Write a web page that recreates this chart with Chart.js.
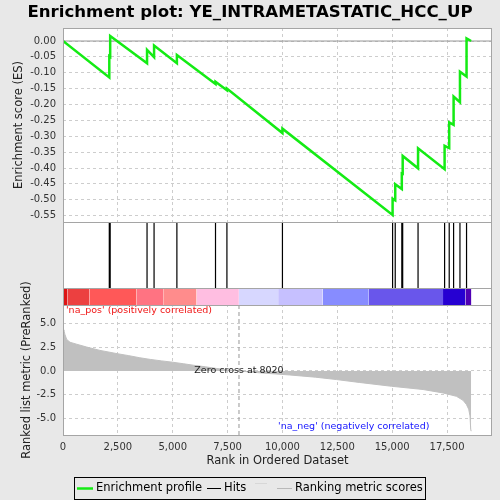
<!DOCTYPE html>
<html>
<head>
<meta charset="utf-8">
<script src="https://cdn.jsdelivr.net/npm/chart.js@4.4.1/dist/chart.umd.min.js"></script>
<style>
  html, body { margin: 0; padding: 0; background: #e8e8e8; }
  #wrap { width: 500px; height: 500px; }
</style>
</head>
<body>
<div id="wrap"><canvas id="gseaChart" width="500" height="500"></canvas></div>
<script>
// Running enrichment score, read at each hit (value before and after the jump)
const esRanks = [0, 2110, 2110, 2150, 2150, 3830, 3830, 4150, 4150, 5190, 5190, 6950, 6950, 7470, 7470,
    10000, 10000, 15020, 15020, 15140, 15140, 15440, 15440, 15480, 15480, 16180, 16180,
    17390, 17390, 17600, 17600, 17800, 17800, 18090, 18090, 18390, 18390, 18600];
const esScores = [0, -0.115, -0.048, -0.050, 0.016, -0.070, -0.028, -0.051, -0.014, -0.070, -0.044, -0.135, -0.128, -0.155, -0.150,
    -0.290, -0.276, -0.548, -0.497, -0.502, -0.451, -0.466, -0.417, -0.418, -0.362, -0.401, -0.338,
    -0.404, -0.330, -0.337, -0.256, -0.264, -0.175, -0.193, -0.097, -0.112, 0.008, 0.0];

// Positions of gene set members in the ranked list
const hitRanks = [2110, 2150, 3830, 4150, 5190, 6950, 7470, 10000, 15020, 15140, 15440, 15480,
    16180, 17390, 17600, 17800, 18090, 18390];

// Ranked list metric (PreRanked)
const metricRanks = [0, 45, 90, 168, 320, 620, 1080, 1685, 2490, 3000, 3500, 4000, 4500, 4980, 5500, 5940, 6500, 7000, 7500, 8020,
    9000, 10337, 11500, 12463, 13500, 14968, 16408, 17318, 17928, 18230, 18383, 18488, 18547, 18580, 18600];
const metricValues = [4.3, 4.2, 3.8, 3.3, 3.0, 2.8, 2.5, 2.15, 1.8, 1.6, 1.38, 1.2, 1.05, 0.92, 0.75, 0.6, 0.43, 0.26, 0.12, 0,
    -0.2, -0.42, -0.65, -0.9, -1.2, -1.6, -1.94, -2.3, -2.65, -3.07, -3.5, -4.0, -4.7, -6.1, -6.3];
const zeroCross = 8020;

// Colour bar under the hits
const barEdges = [0, 196, 1198, 3356, 4567, 6088, 8015, 9804, 11826, 13935, 17318, 18338, 18610];
const barColors = ['rgb(220,20,20)', 'rgb(236,64,64)', 'rgb(255,88,88)', 'rgb(255,115,130)', 'rgb(255,140,140)',
    'rgb(255,190,225)', 'rgb(215,215,255)', 'rgb(198,192,255)', 'rgb(135,140,255)', 'rgb(105,86,235)',
    'rgb(38,0,210)', 'rgb(80,0,180)'];

// Tick values
const rankTicks = [0, 2500, 5000, 7500, 10000, 12500, 15000, 17500];
const esTicks = [0, -0.05, -0.10, -0.15, -0.20, -0.25, -0.30, -0.35, -0.40, -0.45, -0.50, -0.55];
const metricTicks = [5, 2.5, 0, -2.5, -5];

const xMax = 19550;
const FONT = 'DejaVu Sans';

function setTicks(values) {
    return function(scale) {
        scale.ticks = values.slice().sort((a, b) => a - b).map(v => ({ value: v }));
    };
}

function fixWidth(scale) {
    scale.width = 63;
}

// Build datasets
const datasets = [];

datasets.push({
    label: 'Enrichment profile',
    data: esRanks.map((r, i) => ({ x: r, y: esScores[i] })),
    yAxisID: 'yES',
    borderColor: 'rgb(20,235,20)',
    borderWidth: 2.5,
    pointRadius: 0,
    fill: false
});

datasets.push({
    label: 'zero',
    data: [{ x: 0, y: 0 }, { x: xMax, y: 0 }],
    yAxisID: 'yES',
    borderColor: 'rgb(150,150,150)',
    borderWidth: 1,
    pointRadius: 0,
    fill: false
});

const hitPoints = [];
hitRanks.forEach(r => {
    hitPoints.push({ x: r, y: 0 }, { x: r, y: 1 }, { x: r, y: null });
});
datasets.push({
    label: 'Hits',
    data: hitPoints,
    yAxisID: 'yHits',
    borderColor: '#000',
    borderWidth: 1.2,
    pointRadius: 0,
    spanGaps: false,
    fill: false
});

barColors.forEach((c, i) => {
    datasets.push({
        label: 'bar' + i,
        data: [{ x: barEdges[i], y: 1 }, { x: barEdges[i + 1], y: 1 }],
        yAxisID: 'yBar',
        borderWidth: 0,
        borderColor: c,
        backgroundColor: c,
        pointRadius: 0,
        fill: 'origin'
    });
});

datasets.push({
    label: 'zero cross',
    data: [{ x: zeroCross, y: 6.9 }, { x: zeroCross, y: -6.7 }],
    yAxisID: 'yMetric',
    borderColor: 'rgb(150,150,150)',
    borderWidth: 1,
    borderDash: [4, 3],
    pointRadius: 0,
    fill: false
});

datasets.push({
    label: 'Ranking metric scores',
    data: metricRanks.map((r, i) => ({ x: r, y: metricValues[i] })),
    yAxisID: 'yMetric',
    borderColor: 'rgb(192,192,192)',
    borderWidth: 1,
    backgroundColor: 'rgb(192,192,192)',
    pointRadius: 0,
    fill: 'origin'
});

const panelPlugin = {
    id: 'panels',
    beforeDraw(chart) {
        const { ctx, chartArea: a } = chart;
        ctx.save();
        ctx.fillStyle = '#e8e8e8';
        ctx.fillRect(0, 0, chart.width, chart.height);
        ctx.fillStyle = '#fff';
        ctx.fillRect(a.left, a.top, a.right - a.left, a.bottom - a.top);
        ctx.restore();
    },
    beforeDatasetsDraw(chart) {
        // hits panel has no grid lines
        const { ctx, chartArea: a, scales } = chart;
        ctx.save();
        ctx.fillStyle = '#fff';
        ctx.fillRect(a.left, scales.yHits.top, a.right - a.left, scales.yHits.bottom - scales.yHits.top);
        ctx.restore();
    },
    afterDraw(chart) {
        const { ctx, chartArea: a, scales } = chart;
        ctx.save();

        // panel borders
        ctx.strokeStyle = 'rgb(165,165,165)';
        ctx.lineWidth = 1;
        ['yES', 'yHits', 'yBar', 'yMetric'].forEach(id => {
            const s = scales[id];
            ctx.strokeRect(a.left + 0.5, Math.round(s.top) + 0.5, a.right - a.left - 1, Math.round(s.bottom - s.top));
        });

        // title
        ctx.fillStyle = '#000';
        ctx.font = 'bold 16.6px "' + FONT + '"';
        ctx.textAlign = 'center';
        ctx.textBaseline = 'middle';
        ctx.fillText('Enrichment plot: YE_INTRAMETASTATIC_HCC_UP', 250, 13);

        // metric panel annotations
        const m = scales.yMetric;
        const x = scales.x;
        ctx.font = '9.5px "' + FONT + '"';
        ctx.textAlign = 'left';
        ctx.fillStyle = 'rgb(240,20,20)';
        ctx.fillText("'na_pos' (positively correlated)", a.left + 3, m.top + 6);
        ctx.fillStyle = 'rgb(20,20,255)';
        ctx.fillText("'na_neg' (negatively correlated)", x.getPixelForValue(9800), m.bottom - 8);
        ctx.fillStyle = '#222';
        ctx.textAlign = 'center';
        ctx.fillText('Zero cross at ' + zeroCross, x.getPixelForValue(zeroCross), m.getPixelForValue(0));

        // legend
        ctx.strokeStyle = '#000';
        ctx.strokeRect(74.5, 477.5, 351, 22);
        ctx.font = '11.5px "' + FONT + '"';
        ctx.textAlign = 'left';
        ctx.fillStyle = '#000';
        const ly = 488.5;
        ctx.lineWidth = 2.5;
        ctx.strokeStyle = 'rgb(20,235,20)';
        ctx.beginPath(); ctx.moveTo(77, ly); ctx.lineTo(93, ly); ctx.stroke();
        ctx.fillText('Enrichment profile', 96, ly);
        ctx.lineWidth = 1;
        ctx.strokeStyle = '#000';
        ctx.beginPath(); ctx.moveTo(207, ly); ctx.lineTo(221, ly); ctx.stroke();
        ctx.fillText('Hits', 224, ly);
        ctx.strokeStyle = 'rgb(215,215,215)';
        ctx.beginPath(); ctx.moveTo(255, 483.5); ctx.lineTo(267, 483.5); ctx.stroke();
        ctx.strokeStyle = 'rgb(185,185,185)';
        ctx.beginPath(); ctx.moveTo(277, ly); ctx.lineTo(292, ly); ctx.stroke();
        ctx.fillText('Ranking metric scores', 295, ly);

        ctx.restore();
    }
};

const gridStyle = { color: 'rgb(205,205,205)', lineWidth: 1, drawTicks: false, borderDash: [3, 3], tickBorderDash: [3, 3] };
const dashedBorder = { display: true, width: 0, color: 'rgba(0,0,0,0)', dash: [3, 3] };
const tickFont = { family: FONT, size: 10 };
const titleFont = { family: FONT, size: 11.5 };

new Chart(document.getElementById('gseaChart'), {
    type: 'line',
    data: { datasets: datasets },
    options: {
        responsive: false,
        animation: false,
        devicePixelRatio: 1,
        layout: { padding: { top: 28, right: 8, bottom: 30, left: 0 } },
        plugins: {
            legend: { display: false },
            tooltip: { enabled: false },
            title: { display: false }
        },
        scales: {
            x: {
                type: 'linear',
                min: 0,
                max: xMax,
                afterBuildTicks: setTicks(rankTicks),
                afterFit: scale => { scale.height = 35; },
                ticks: {
                    autoSkip: false,
                    padding: 6,
                    color: '#333',
                    font: tickFont,
                    maxRotation: 0,
                    callback: v => v.toLocaleString('en-US')
                },
                grid: gridStyle,
                border: dashedBorder,
                title: { display: true, text: 'Rank in Ordered Dataset', color: '#222', font: titleFont, padding: { top: 0, bottom: 2 } }
            },
            yMetric: {
                type: 'linear',
                position: 'left',
                stack: 'gsea',
                stackWeight: 130,
                min: -6.7,
                max: 6.9,
                afterBuildTicks: setTicks(metricTicks),
                afterFit: fixWidth,
                ticks: { autoSkip: false, padding: 7, color: '#333', font: tickFont, callback: v => v.toFixed(1) },
                grid: gridStyle,
                border: dashedBorder,
                title: { display: true, text: 'Ranked list metric (PreRanked)', color: '#222', font: titleFont, padding: { top: 20, bottom: 0 } }
            },
            yBar: {
                type: 'linear',
                position: 'left',
                stack: 'gsea',
                stackWeight: 17,
                min: 0,
                max: 1,
                afterFit: fixWidth,
                ticks: { display: false },
                grid: { display: false },
                border: { display: false }
            },
            yHits: {
                type: 'linear',
                position: 'left',
                stack: 'gsea',
                stackWeight: 66,
                min: 0,
                max: 1,
                afterFit: fixWidth,
                ticks: { display: false },
                grid: { display: false },
                border: { display: false }
            },
            yES: {
                type: 'linear',
                position: 'left',
                stack: 'gsea',
                stackWeight: 194,
                min: -0.57,
                max: 0.041,
                afterBuildTicks: setTicks(esTicks),
                afterFit: fixWidth,
                ticks: { autoSkip: false, padding: 7, color: '#333', font: tickFont, callback: v => v.toFixed(2) },
                grid: gridStyle,
                border: dashedBorder,
                title: { display: true, text: 'Enrichment score (ES)', color: '#222', font: titleFont, padding: { top: 12, bottom: 0 } }
            }
        }
    },
    plugins: [panelPlugin]
});
</script>
</body>
</html>
